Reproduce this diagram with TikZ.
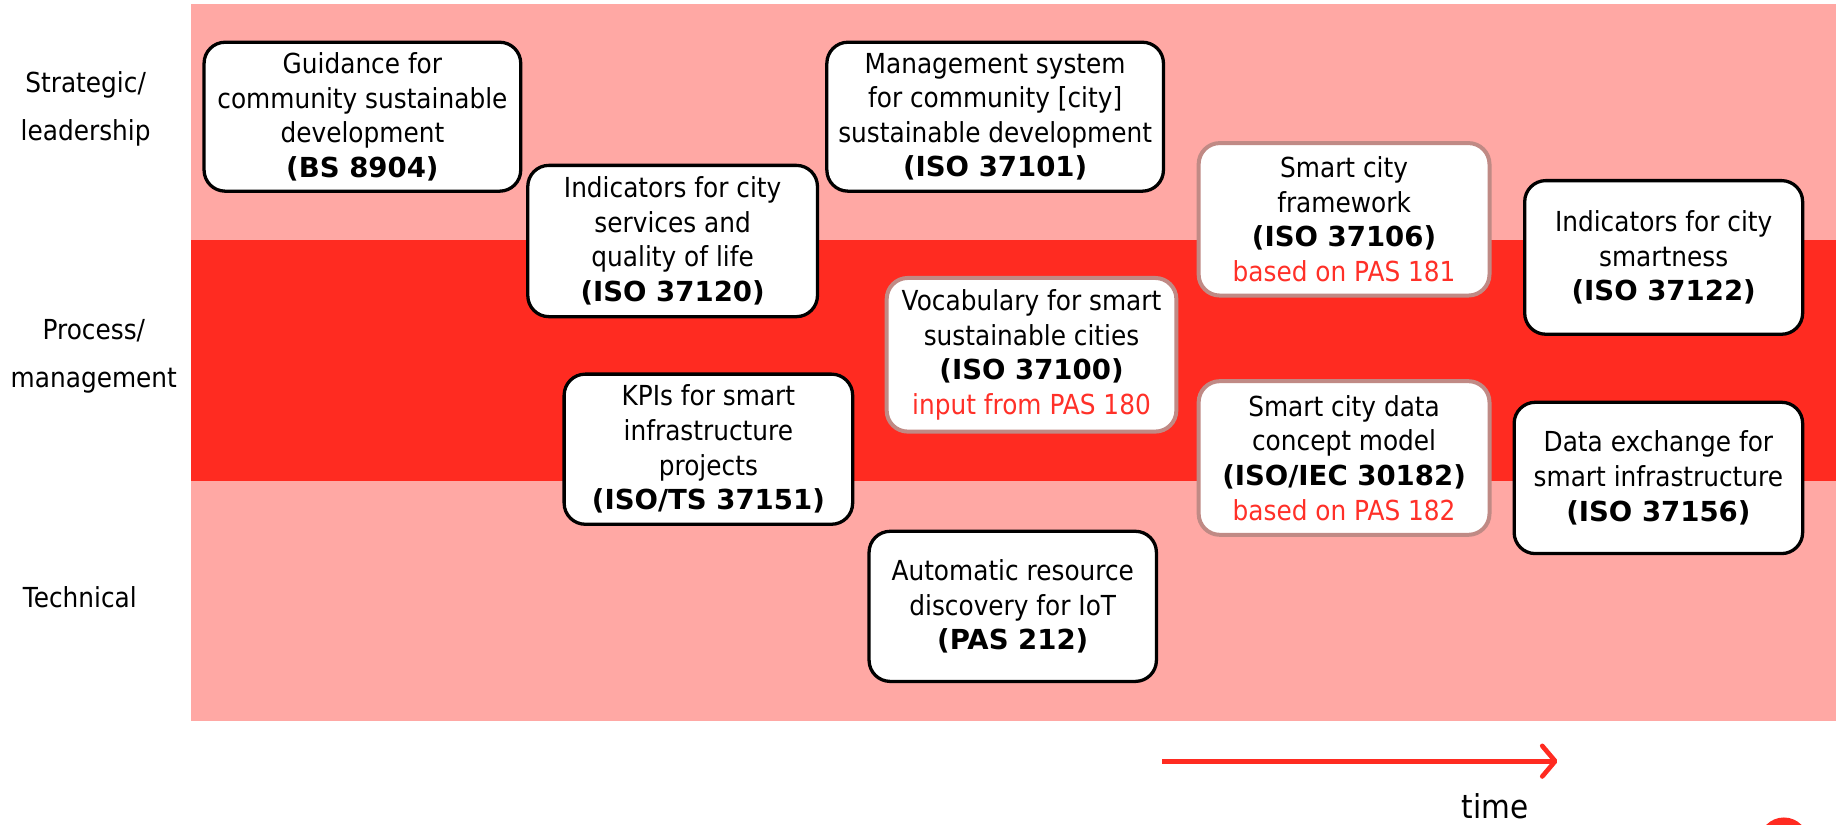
\documentclass[tikz,border=0pt]{standalone}
\usepackage{fontspec}
\setmainfont{DejaVu Sans}[UprightFeatures={FakeStretch=0.9}, BoldFeatures={FakeStretch=1.0}]
\usetikzlibrary{arrows.meta}
\definecolor{bandpink}{RGB}{255,168,164}
\definecolor{bandred}{RGB}{255,43,33}
\definecolor{txtred}{RGB}{255,48,40}
\definecolor{softborder}{RGB}{192,138,133}
\tikzset{
  stdbox/.style={draw=black, line width=2.8pt, fill=white, rounded corners=18pt,
    align=center, inner sep=0pt, font=\fontsize{23.5}{29.5}\selectfont},
  pasbox/.style={stdbox, draw=softborder, line width=3.4pt},
  lanelabel/.style={align=center, font=\fontsize{23.5}{41}\selectfont},
  wh/.style 2 args={minimum width=#1pt, minimum height=#2pt},
}
\begin{document}
\begin{tikzpicture}[x=1pt,y=-1pt]
\useasboundingbox (0,0) rectangle (1568,703);
% bands
\fill[bandpink] (163,3) rectangle (1565,615);
\fill[bandred] (163,205) rectangle (1565,410);
% lane labels
\node[lanelabel] (lstrat) at (73,93) {Strategic/\\leadership};
\node[lanelabel] (lproc) at (80,304) {Process/\\management};
\node[lanelabel] (ltech) at (68,509) {Technical};
% boxes
\node[stdbox, wh={270}{127}] (guid) at (309,99.5) {Guidance for\\community sustainable\\development\\\textbf{(BS 8904)}};
\node[stdbox, wh={247}{129}] (indq) at (573.5,205.5) {Indicators for city\\services and\\quality of life\\\textbf{(ISO 37120)}};
\node[stdbox, wh={287}{127}] (mgmt) at (848.5,99.5) {Management system\\for community [city]\\sustainable development\\\textbf{(ISO 37101)}};
\node[pasbox, wh={248}{130}] (frame) at (1146,187) {Smart city\\framework\\\textbf{(ISO 37106)}\\\textcolor{txtred}{based on PAS 181}};
\node[stdbox, wh={237}{131}] (inds) at (1418.5,219.5) {Indicators for city\\smartness\\\textbf{(ISO 37122)}};
\node[pasbox, wh={247}{131}] (vocab) at (879.5,302.5) {Vocabulary for smart\\sustainable cities\\\textbf{(ISO 37100)}\\\textcolor{txtred}{input from PAS 180}};
\node[stdbox, wh={246}{128}] (kpi) at (604,383) {KPIs for smart\\infrastructure\\projects\\\textbf{(ISO/TS 37151)}};
\node[pasbox, wh={248}{131}] (data) at (1146,390.5) {Smart city data\\concept model\\\textbf{(ISO/IEC 30182)}\\\textcolor{txtred}{based on PAS 182}};
\node[stdbox, wh={246}{129}] (dex) at (1414,407.5) {Data exchange for\\smart infrastructure\\\textbf{(ISO 37156)}};
\node[stdbox, wh={245}{128}] (auto) at (863.5,517) {Automatic resource\\discovery for IoT\\\textbf{(PAS 212)}};
% time arrow
\coordinate (t0) at (991,649);
\coordinate (t1) at (1328,649);
\draw[bandred, line width=4pt, -{Straight Barb[length=11pt, width=26pt, line width=4pt, round]}] (t0) -- (t1);
\node[font=\fontsize{28}{30}\selectfont, anchor=base] (time) at (1275,698) {time};
% partial circle at bottom right
\begin{scope}
\clip (0,0) rectangle (1568,703);
\fill[bandred] (1521,718) circle (21);
\end{scope}
\end{tikzpicture}
\end{document}
